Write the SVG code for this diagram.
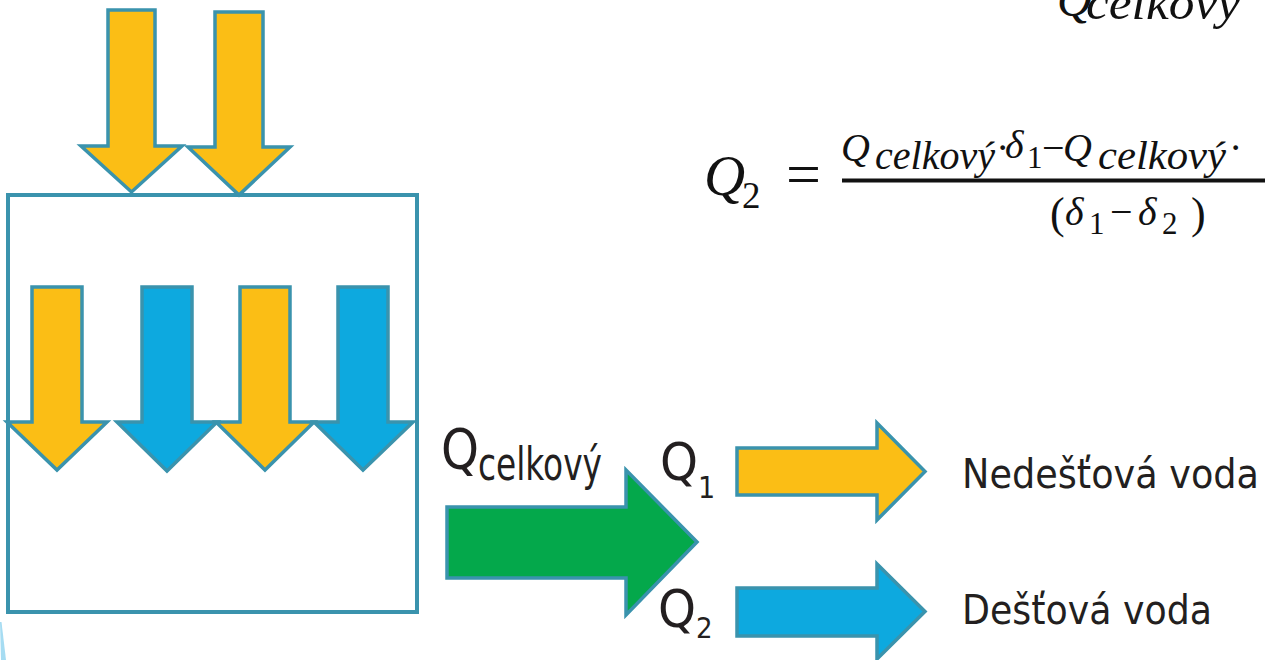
<svg xmlns="http://www.w3.org/2000/svg" width="1265" height="660" viewBox="0 0 1265 660">
  <style>
    .shape { stroke: #3a93ad; stroke-width: 3.5; stroke-linejoin: miter; }
    .yellow { fill: #fbbe15; }
    .blue { fill: #0da9df; }
    .green { fill: #04a84b; }
    .box { fill: none; stroke: #3a93ad; stroke-width: 4; }
    .lbl { font-family: "DejaVu Sans Condensed", "DejaVu Sans", sans-serif; font-stretch: condensed; fill: #231f20; }
    .m { font-family: "Liberation Serif", "DejaVu Serif", serif; fill: #111; }
    .mi { font-style: italic; }
  </style>

  <!-- decorative sliver at the lower left edge -->
  <polygon points="0,622 1.5,622 6,660 1,660" fill="#a6dcf2"/>

  <!-- catchment box -->
  <g id="catchment">
    <rect class="box" x="8" y="195" width="409" height="417"/>
  </g>

  <!-- inflow arrows above the catchment -->
  <g id="inflow-1">
    <polygon class="shape yellow" points="108,10 155,10 155,146 182,146 131.5,192 81,146 108,146"/>
  </g>
  <g id="inflow-2">
    <polygon class="shape yellow" points="215,12 263,12 263,147 290,147 239,195 188,147 215,147"/>
  </g>

  <!-- flows inside the catchment -->
  <g id="flow-a">
    <polygon class="shape yellow" points="32,287 82,287 82,422 107,422 57,470 7,422 32,422"/>
  </g>
  <g id="flow-b">
    <polygon class="shape blue" points="142,287 192,287 192,422 217,422 167,471 117,422 142,422"/>
  </g>
  <g id="flow-c">
    <polygon class="shape yellow" points="240,287 290,287 290,422 314,422 265,470 216,422 240,422"/>
  </g>
  <g id="flow-d">
    <polygon class="shape blue" points="338,287 388,287 388,422 413,422 363,470 314,422 338,422"/>
  </g>

  <!-- outgoing flows -->
  <g id="connectors">
    <polygon id="total-flow" class="shape green" points="447,507 626,507 626,470 697,542 626,615 626,578 447,578"/>
    <polygon id="flow-q1" class="shape yellow" points="737,448 877,448 877,423 925,471.5 877,520 877,495 737,495"/>
    <polygon id="flow-q2" class="shape blue" points="737,588 877,588 877,564 925,611.5 877,659 877,636 737,636"/>
  </g>

  <!-- flow labels -->
  <g id="label-total">
    <text class="lbl" x="441" y="468" font-size="55" textLength="38" lengthAdjust="spacingAndGlyphs">Q</text>
    <text class="lbl" x="478" y="480" font-size="46" textLength="124" lengthAdjust="spacingAndGlyphs">celkový</text>
  </g>
  <g id="label-q1">
    <text class="lbl" x="660" y="480" font-size="51" textLength="38" lengthAdjust="spacingAndGlyphs">Q</text>
    <text class="lbl" x="698" y="498" font-size="30">1</text>
  </g>
  <g id="label-q2">
    <text class="lbl" x="658" y="627" font-size="51" textLength="38" lengthAdjust="spacingAndGlyphs">Q</text>
    <text class="lbl" x="696" y="638" font-size="29">2</text>
  </g>
  <g id="legend-dry">
    <text class="lbl" x="962" y="488" font-size="41" textLength="297" lengthAdjust="spacingAndGlyphs">Nedešťová voda</text>
  </g>
  <g id="legend-rain">
    <text class="lbl" x="962" y="624" font-size="41" textLength="250" lengthAdjust="spacingAndGlyphs">Dešťová voda</text>
  </g>

  <!-- formulas -->
  <g id="formula-top">
    <text class="m mi" x="1057" y="16" font-size="48">Q</text>
    <text class="m mi" x="1086" y="19" font-size="48" textLength="154" lengthAdjust="spacingAndGlyphs">celkový</text>
  </g>
  <g id="formula-q2">
    <text class="m mi" x="704" y="195" font-size="57">Q</text>
    <text class="m" x="742" y="208" font-size="37">2</text>
    <text class="m" x="786" y="195" font-size="62">=</text>
    <rect x="842" y="178.5" width="423" height="4" fill="#111"/>
    <!-- numerator -->
    <text class="m mi" x="841" y="161" font-size="40">Q</text>
    <text class="m mi" x="875" y="169" font-size="40" textLength="120" lengthAdjust="spacingAndGlyphs">celkový</text>
    <text class="m" x="996" y="161" font-size="40">·</text>
    <text class="m mi" x="1005" y="158" font-size="40">δ</text>
    <text class="m" x="1027" y="168" font-size="31">1</text>
    <text class="m" x="1042" y="161" font-size="40">−</text>
    <text class="m mi" x="1063" y="161" font-size="40">Q</text>
    <text class="m mi" x="1098" y="169" font-size="40" textLength="128" lengthAdjust="spacingAndGlyphs">celkový</text>
    <text class="m" x="1229" y="161" font-size="40">·</text>
    <!-- denominator -->
    <text class="m" x="1050" y="228" font-size="44">(</text>
    <text class="m mi" x="1065" y="225" font-size="40">δ</text>
    <text class="m" x="1089" y="234" font-size="31">1</text>
    <text class="m" x="1110" y="225" font-size="40">−</text>
    <text class="m mi" x="1138" y="225" font-size="40">δ</text>
    <text class="m" x="1162" y="234" font-size="31">2</text>
    <text class="m" x="1191" y="228" font-size="44">)</text>
  </g>
</svg>
